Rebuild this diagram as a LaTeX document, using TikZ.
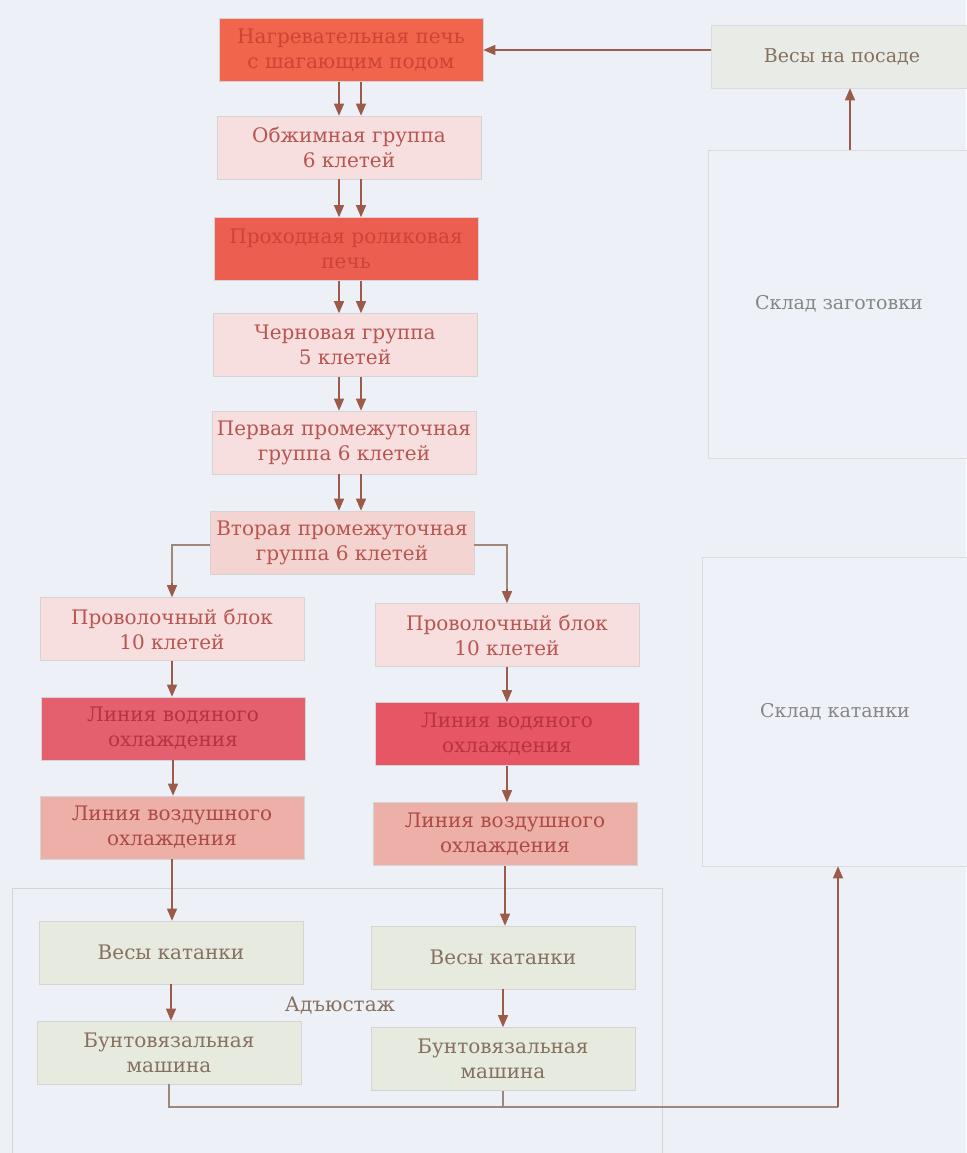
\documentclass[tikz,border=0pt]{standalone}
\usepackage{fontspec}
\setmainfont{DejaVu Serif}
\usetikzlibrary{arrows.meta,calc}
\definecolor{bg}{HTML}{EDF0F6}
\definecolor{boxline}{HTML}{D6D3D3}
\definecolor{arrc}{HTML}{9B5B48}
\definecolor{linec}{HTML}{A08878}
\definecolor{heatf}{HTML}{F0654C}
\definecolor{heatt}{HTML}{CC4436}
\definecolor{rollf}{HTML}{EC5E4F}
\definecolor{pinkf}{HTML}{F6DFDE}
\definecolor{pinkf2}{HTML}{F4D4D0}
\definecolor{pinkt}{HTML}{B85550}
\definecolor{waterf}{HTML}{E4606F}
\definecolor{watert}{HTML}{B83242}
\definecolor{airf}{HTML}{EDB0A9}
\definecolor{airt}{HTML}{AC4A44}
\definecolor{greyf}{HTML}{E6EADF}
\definecolor{greyt}{HTML}{86705F}
\definecolor{vpf}{HTML}{E8EBE6}
\definecolor{skf}{HTML}{EEF2F8}
\definecolor{skl}{HTML}{D8DCDF}
\definecolor{skt}{HTML}{858585}
\begin{document}
\begin{tikzpicture}[x=1pt,y=-1pt,
  box/.style={draw=boxline, line width=0.6pt, minimum width=264pt, minimum height=63pt,
    inner sep=2pt, align=center, font=\fontsize{20}{25}\selectfont},
  heatbox/.style={box, fill=heatf, text=heatt},
  pinkbox/.style={box, fill=pinkf, text=pinkt},
  waterbox/.style={box, fill=waterf, text=watert},
  airbox/.style={box, fill=airf, text=airt},
  greybox/.style={box, fill=greyf, text=greyt},
  skbox/.style={draw=skl, line width=0.6pt, fill=skf, text=skt, align=center,
    font=\fontsize{19}{25}\selectfont},
  arr/.style={draw=arrc, line width=1.2pt, -{Triangle[width=10pt,length=12pt]}},
  ln/.style={draw=linec, line width=1.2pt}]
\useasboundingbox (0,0) rectangle (966,1153);
\fill[bg] (0,0) rectangle (966,1153);

% Adjustage group box
\node[draw=boxline, line width=0.8pt, minimum width=650pt, minimum height=290pt,
  anchor=north west, inner sep=0pt] (adj) at (12,888) {};
\node[font=\fontsize{20}{25}\selectfont, text=greyt] (adjl) at (340,1006) {Адъюстаж};

% main column
\node[heatbox] (heat) at (351,50) {Нагревательная печь\\с шагающим подом};
\node[pinkbox] (obzh) at (349,147.5) {Обжимная группа\\6 клетей};
\node[heatbox, fill=rollf] (roll) at (346,249) {Проходная роликовая\\печь};
\node[pinkbox] (chern) at (345,345) {Черновая группа\\5 клетей};
\node[pinkbox] (perv) at (344,442.5) {Первая промежуточная\\группа 6 клетей};
\node[pinkbox, fill=pinkf2] (vtor) at (342,542.5) {Вторая промежуточная\\группа 6 клетей};

% left column
\node[pinkbox] (L1) at (172,629) {Проволочный блок\\10 клетей};
\node[waterbox] (L2) at (173,728.5) {Линия водяного\\охлаждения};
\node[airbox] (L3) at (172,827.5) {Линия воздушного\\охлаждения};
\node[greybox] (L4) at (171,952.5) {Весы катанки};
\node[greybox] (L5) at (169,1052.5) {Бунтовязальная\\машина};

% right column
\node[pinkbox] (R1) at (507,635) {Проволочный блок\\10 клетей};
\node[waterbox, fill=waterf!90!red] (R2) at (507,734) {Линия водяного\\охлаждения};
\node[airbox] (R3) at (505,834) {Линия воздушного\\охлаждения};
\node[greybox] (R4) at (503,957.5) {Весы катанки};
\node[greybox] (R5) at (503,1059) {Бунтовязальная\\машина};

% right side
\node[skbox, fill=vpf, text=greyt, minimum width=262pt, minimum height=63pt] (vp) at (842,56.5) {Весы на посаде};
\node[skbox, minimum width=262pt, minimum height=308pt] (zag) at (839,304) {Склад заготовки};
\node[skbox, minimum width=266pt, minimum height=309pt] (kat) at (835,711.5) {Склад катанки};

% double arrows in main column
\coordinate (aL) at (339,0);
\coordinate (aR) at (361,0);
\foreach \a/\b in {heat/obzh, obzh/roll, roll/chern, chern/perv, perv/vtor}{
  \draw[arr] (\a.south -| aL) -- (\b.north -| aL);
  \draw[arr] (\a.south -| aR) -- (\b.north -| aR);
}

% split
\coordinate (sy) at (0,545);
\draw[ln] (vtor.west |- sy) -| ($(L1.north)+(0,-12)$);
\draw[arr] ($(L1.north)+(0,-14)$) -- (L1.north);
\draw[ln] (vtor.east |- sy) -| ($(R1.north)+(0,-12)$);
\draw[arr] ($(R1.north)+(0,-14)$) -- (R1.north);

% columns
\foreach \a/\b in {L1/L2, L2/L3, L3/L4, L4/L5, R1/R2, R2/R3, R3/R4, R4/R5}{
  \draw[arr] (\a.south) -- (\b.north -| \a.south);
}

% bottom collector
\coordinate (bj) at (838,1107);
\draw[ln] (L5.south) |- (bj);
\draw[ln] (R5.south) -- (R5.south |- bj);
\draw[arr] (bj) -- (kat.south -| bj);

% top right
\coordinate (zx) at (850,0);
\draw[arr] (zag.north -| zx) -- (vp.south -| zx);
\draw[arr] (vp.west |- heat.east) -- (heat.east);
\end{tikzpicture}
\end{document}
